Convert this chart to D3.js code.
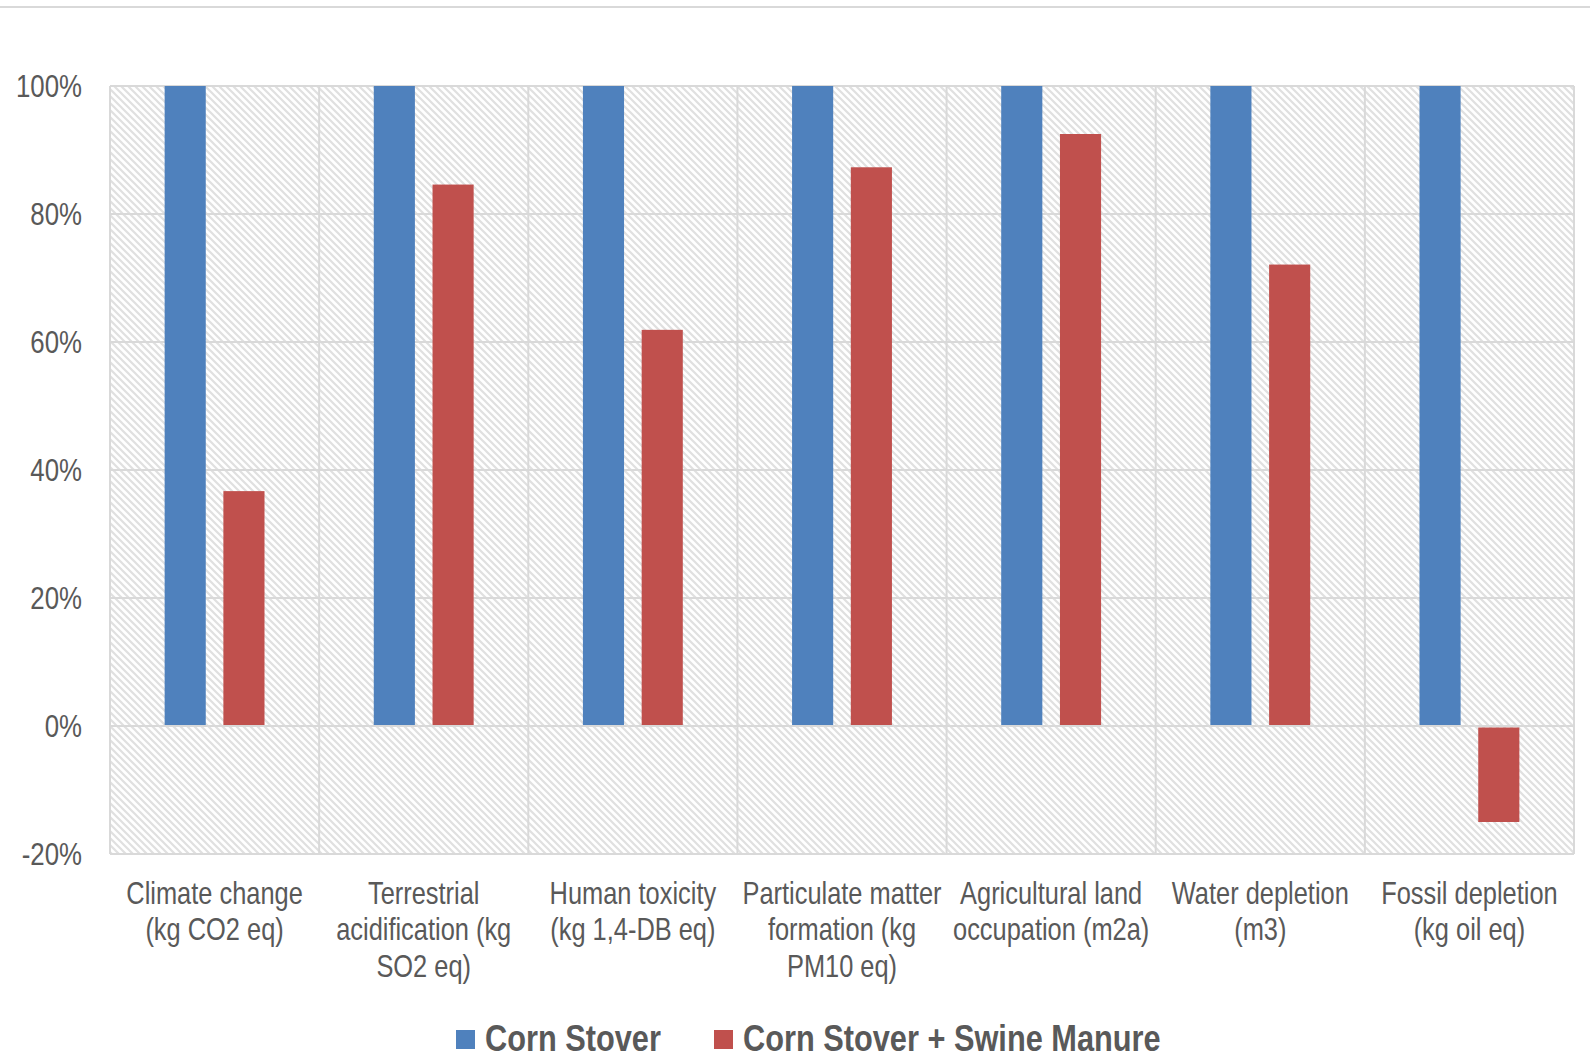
<!DOCTYPE html>
<html>
<head>
<meta charset="utf-8">
<script src="https://cdn.jsdelivr.net/npm/d3@7"></script>
<style>
  body { margin: 0; background: #fff; }
  text { font-family: "Liberation Sans", Arial, sans-serif; }
</style>
</head>
<body>
<script>
const w = 1590;
const h = 1055;
const narrow = 0.82; // Arial Narrow look from Liberation Sans

const categories = [
    ["Climate change", "(kg CO2 eq)"],
    ["Terrestrial", "acidification (kg", "SO2 eq)"],
    ["Human toxicity", "(kg 1,4-DB eq)"],
    ["Particulate matter", "formation (kg", "PM10 eq)"],
    ["Agricultural land", "occupation (m2a)"],
    ["Water depletion", "(m3)"],
    ["Fossil depletion", "(kg oil eq)"]
];
const series = ["Corn Stover", "Corn Stover + Swine Manure"];
const cornStover = [100, 100, 100, 100, 100, 100, 100];
const cornSwine = [36.7, 84.6, 61.9, 87.3, 92.5, 72.1, -15.0];
const yTicks = [-20, 0, 20, 40, 60, 80, 100];
const colors = ["#4f81bd", "#c0504d"];

const m = { left: 110, right: 1574, top: 86, bottom: 854 };

const svg = d3.select("body").append("svg")
    .attr("width", w)
    .attr("height", h);

// hatch fill for the plot area
const pat = svg.append("defs").append("pattern")
    .attr("id", "hatch")
    .attr("patternUnits", "userSpaceOnUse")
    .attr("width", 7)
    .attr("height", 7);
pat.append("rect").attr("width", 7).attr("height", 7).attr("fill", "#fff");
pat.append("path")
    .attr("d", "M0,0 L7,7 M-2,5 L2,9 M5,-2 L9,2")
    .attr("stroke", "#e0e0e0")
    .attr("stroke-width", 2.2);

// top rule
svg.append("line")
    .attr("x1", 0).attr("x2", w)
    .attr("y1", 7).attr("y2", 7)
    .attr("stroke", "#d9d9d9").attr("stroke-width", 2);

const keys = categories.map(c => c.join(" "));

const x0 = d3.scaleBand()
    .domain(keys)
    .range([m.left, m.right])
    .padding(0);

const x1 = d3.scaleBand()
    .domain(series)
    .range([0, x0.bandwidth()])
    .paddingInner(0.3)
    .paddingOuter(0.93);

const y = d3.scaleLinear()
    .domain([-20, 100])
    .range([m.bottom, m.top]);

svg.append("rect")
    .attr("x", m.left).attr("y", m.top)
    .attr("width", m.right - m.left).attr("height", m.bottom - m.top)
    .attr("fill", "url(#hatch)");

// horizontal gridlines
svg.append("g")
    .selectAll("line")
    .data(yTicks)
    .enter()
    .append("line")
    .attr("x1", m.left).attr("x2", m.right)
    .attr("y1", d => y(d)).attr("y2", d => y(d))
    .attr("stroke", "#d9d9d9").attr("stroke-width", 2);

// vertical separators
svg.append("g")
    .selectAll("line")
    .data(keys.concat(["end"]))
    .enter()
    .append("line")
    .attr("x1", (d, i) => i < keys.length ? x0(d) : m.right)
    .attr("x2", (d, i) => i < keys.length ? x0(d) : m.right)
    .attr("y1", m.top).attr("y2", m.bottom)
    .attr("stroke", "#d9d9d9").attr("stroke-width", 2);

// bars
const rows = keys.map((k, i) => ({ key: k, vals: [cornStover[i], cornSwine[i]] }));
const grp = svg.append("g")
    .selectAll("g")
    .data(rows)
    .enter()
    .append("g")
    .attr("transform", d => "translate(" + x0(d.key) + ",0)");

grp.selectAll("rect")
    .data(d => d.vals.map((v, j) => ({ s: series[j], v: v, j: j })))
    .enter()
    .append("rect")
    .attr("x", d => x1(d.s))
    .attr("width", x1.bandwidth())
    .attr("y", d => d.v >= 0 ? y(d.v) : y(0) + 1.5)
    .attr("height", d => d.v >= 0 ? y(0) - y(d.v) - 1 : y(d.v) - y(0) - 1.5)
    .attr("fill", d => colors[d.j]);

// y axis
const yAxis = d3.axisLeft(y)
    .tickValues(yTicks)
    .tickSize(0)
    .tickPadding(28)
    .tickFormat(d => d + "%");

svg.append("g")
    .attr("transform", "translate(" + m.left + ",0)")
    .call(yAxis)
    .call(g => g.select(".domain").remove())
    .selectAll("text")
    .attr("font-size", 31.5)
    .attr("fill", "#595959")
    .attr("font-family", null)
    .attr("x", -28 / narrow)
    .attr("transform", "scale(" + narrow + ",1)");

// x axis labels
const xAxis = d3.axisBottom(x0).tickSize(0).tickFormat("");
const xg = svg.append("g")
    .attr("transform", "translate(0," + m.bottom + ")")
    .call(xAxis);
xg.select(".domain").remove();
xg.selectAll(".tick").each(function(d, i) {
    const t = d3.select(this).append("text")
        .attr("text-anchor", "middle")
        .attr("font-size", 31)
        .attr("fill", "#595959")
        .attr("transform", "scale(" + narrow + ",1)");
    categories[i].forEach((line, k) => {
        t.append("tspan")
            .attr("x", 0)
            .attr("y", 50 + k * 36.5)
            .text(line);
    });
});

// legend
const legendX = [456, 714];
const lg = svg.append("g")
    .selectAll("g")
    .data(series)
    .enter()
    .append("g")
    .attr("transform", (d, i) => "translate(" + legendX[i] + ",1030)");
lg.append("rect")
    .attr("width", 19).attr("height", 19)
    .attr("fill", (d, i) => colors[i]);
lg.append("text")
    .attr("x", 29 / narrow).attr("y", 21)
    .attr("font-size", 37.5)
    .attr("font-weight", "bold")
    .attr("fill", "#595959")
    .attr("transform", "scale(" + narrow + ",1)")
    .text(d => d);
</script>
</body>
</html>
